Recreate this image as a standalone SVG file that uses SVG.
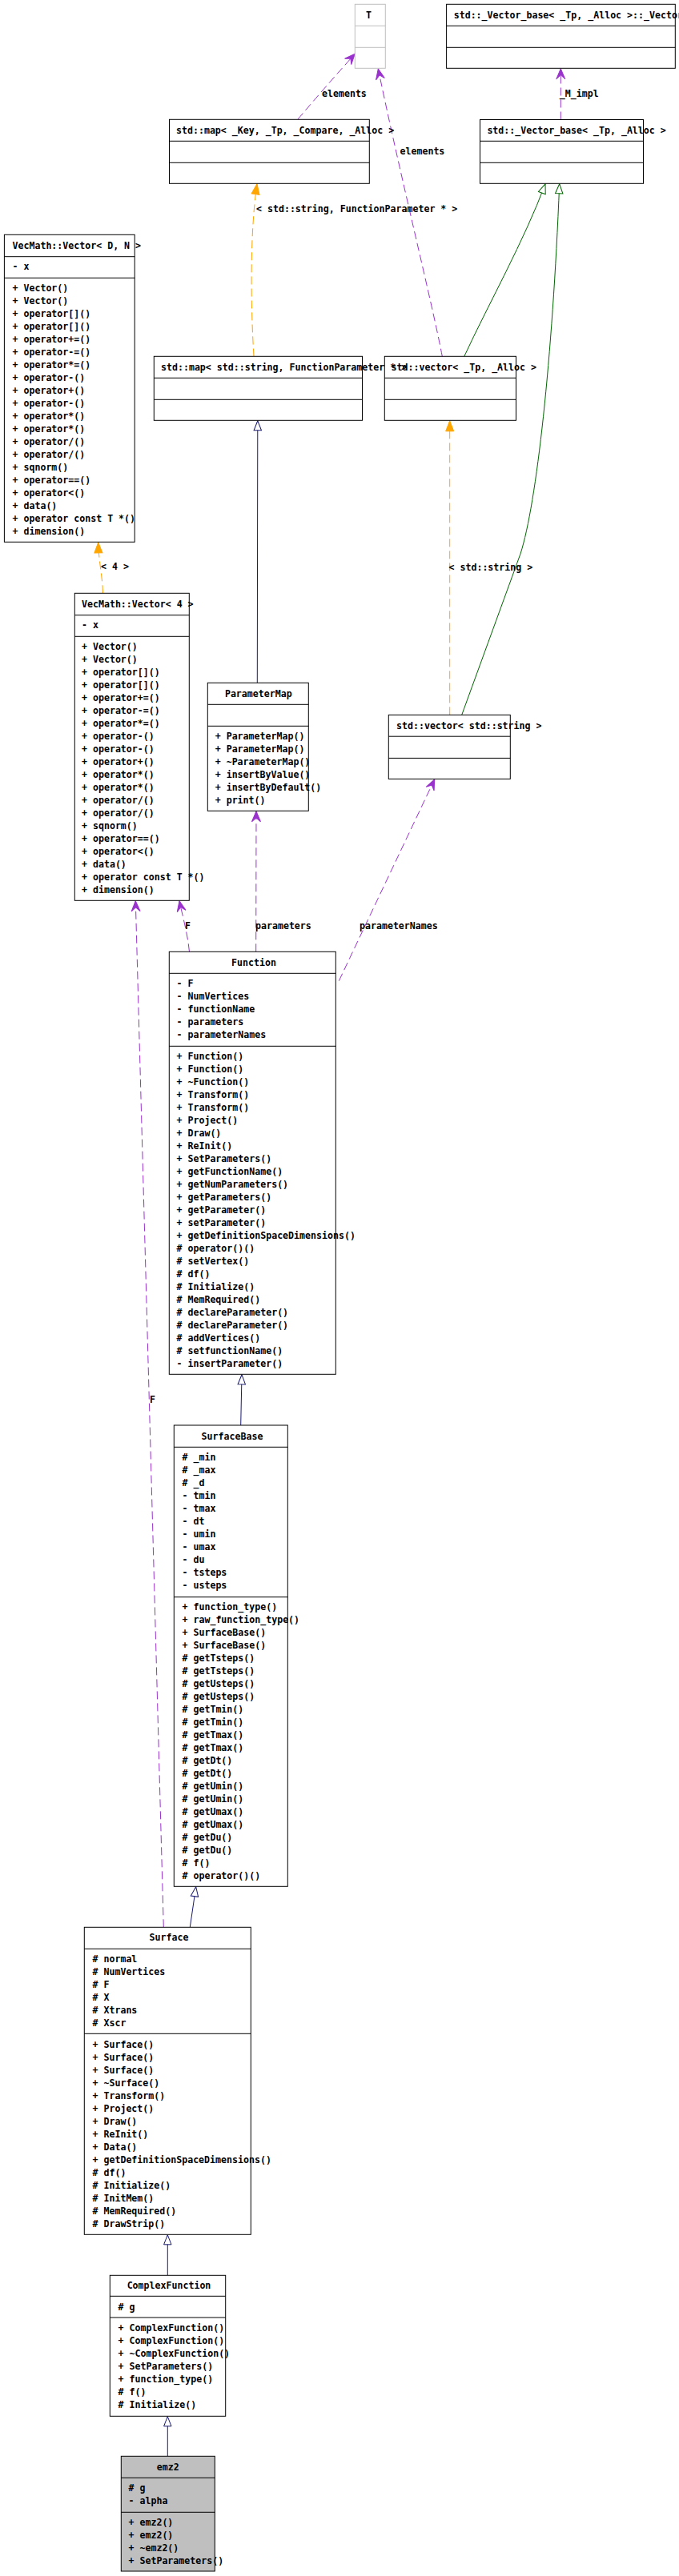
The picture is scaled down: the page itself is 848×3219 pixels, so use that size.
<svg xmlns="http://www.w3.org/2000/svg" width="848" height="3219" viewBox="0 0 848 3219">
<style>
.bx{fill:#ffffff;stroke:#000000;stroke-width:1}
.gbx{fill:#ffffff;stroke:#bfbfbf;stroke-width:1}
.hl{fill:#bfbfbf;stroke:#000000;stroke-width:1}
.dv{stroke:#000000;stroke-width:1}
.gdv{stroke:#bfbfbf;stroke-width:1}
text{font-family:"DejaVu Sans Mono","Liberation Mono",monospace;font-size:11.6px;font-weight:bold;fill:#000000}
.c{text-anchor:middle}
.e{fill:none;stroke-width:1}
.pu{stroke:#9a32cd;stroke-dasharray:10,5}
.or{stroke:#ffa500;stroke-dasharray:10,5}
.gr{stroke:#006400}
.nv{stroke:#191970}
</style>
<defs>
<marker id="mPu" markerUnits="userSpaceOnUse" viewBox="-15 -8 16 16" markerWidth="16" markerHeight="16" refX="0" refY="0" orient="auto">
<path d="M0,0 L-13,-5.5 L-8,0 L-13,5.5 Z" fill="#9a32cd" stroke="#9a32cd" stroke-width="1"/>
</marker>
<marker id="mOr" markerUnits="userSpaceOnUse" viewBox="-15 -8 16 16" markerWidth="16" markerHeight="16" refX="0" refY="0" orient="auto">
<path d="M0,0 L-13,-5 L-13,5 Z" fill="#ffa500" stroke="#ffa500" stroke-width="1"/>
</marker>
<marker id="mNv" markerUnits="userSpaceOnUse" viewBox="-15 -8 16 16" markerWidth="16" markerHeight="16" refX="0" refY="0" orient="auto">
<path d="M0,0 L-12,-4.7 L-12,4.7 Z" fill="#ffffff" stroke="#191970" stroke-width="1"/>
</marker>
<marker id="mGr" markerUnits="userSpaceOnUse" viewBox="-15 -8 16 16" markerWidth="16" markerHeight="16" refX="0" refY="0" orient="auto">
<path d="M0,0 L-12,-4.7 L-12,4.7 Z" fill="#ffffff" stroke="#006400" stroke-width="1"/>
</marker>
</defs>
<rect x="0" y="0" width="848" height="3219" fill="#ffffff"/>

<g id="connectors">
<path class="e pu" d="M372,149 Q405,110 443.3,67.3" marker-end="url(#mPu)"/>
<path class="e pu" d="M552.3,445.3 C540,380 500,220 472.3,86" marker-end="url(#mPu)"/>
<path class="e pu" d="M700.3,149.5 L700.3,85.8" marker-end="url(#mPu)"/>
<path class="e or" d="M317,445.3 C313,380 312,290 321,229.8" marker-end="url(#mOr)"/>
<path class="e gr" d="M579.8,445.3 C610,380 655,300 681,229.8" marker-end="url(#mGr)"/>
<path class="e gr" d="M576.7,893.4 L650,692 C670,630 690,450 698.7,229.8" marker-end="url(#mGr)"/>
<path class="e or" d="M561.7,893.4 L561.7,525.8" marker-end="url(#mOr)"/>
<path class="e or" d="M128.5,741.3 C128,720 123,700 122.7,677.8" marker-end="url(#mOr)"/>
<path class="e nv" d="M321.3,853.3 L321.8,525.8" marker-end="url(#mNv)"/>
<path class="e pu" d="M319.7,1189.3 L320,1013.8" marker-end="url(#mPu)"/>
<path class="e pu" d="M423.3,1225.7 L542.7,973.9" marker-end="url(#mPu)"/>
<path class="e pu" d="M236.5,1189.3 C234,1165 228,1145 224,1125.8" marker-end="url(#mPu)"/>
<path class="e pu" d="M204.3,2408.3 L169.3,1125.8" marker-end="url(#mPu)"/>
<path class="e nv" d="M300.7,1781 L302,1717.8" marker-end="url(#mNv)"/>
<path class="e nv" d="M237.3,2408.3 L244.7,2357.8" marker-end="url(#mNv)"/>
<path class="e nv" d="M209.3,2843.3 L209.3,2792.8" marker-end="url(#mNv)"/>
<path class="e nv" d="M209.3,3069.3 L209.3,3019.8" marker-end="url(#mNv)"/>
<text x="402" y="121">elements</text>
<text x="499.5" y="193">elements</text>
<text x="698.8" y="120.7">_M_impl</text>
<text x="320" y="265">&lt; std::string, FunctionParameter * &gt;</text>
<text x="126" y="712.3">&lt; 4 &gt;</text>
<text x="560.5" y="713">&lt; std::string &gt;</text>
<text x="231" y="1161">F</text>
<text x="319" y="1161">parameters</text>
<text x="449" y="1161">parameterNames</text>
<text x="187" y="1753">F</text>
</g>

<g id="node-T">
<rect class="gbx" x="443.3" y="5.3" width="38" height="80"/>
<line class="gdv" x1="443.3" y1="32.3" x2="481.3" y2="32.3"/>
<line class="gdv" x1="443.3" y1="59.3" x2="481.3" y2="59.3"/>
<text class="c" x="460.5" y="23">T</text>
</g>

<g id="node-vector-impl">
<rect class="bx" x="557.6" y="5.3" width="285.7" height="80"/>
<line class="dv" x1="557.6" y1="32.3" x2="843.3" y2="32.3"/>
<line class="dv" x1="557.6" y1="59.3" x2="843.3" y2="59.3"/>
<text x="566.7" y="23">std::_Vector_base&lt; _Tp, _Alloc &gt;::_Vector_impl</text>
</g>

<g id="node-map-key">
<rect class="bx" x="211.5" y="149.3" width="249.8" height="80"/>
<line class="dv" x1="211.5" y1="176.3" x2="461.3" y2="176.3"/>
<line class="dv" x1="211.5" y1="203.3" x2="461.3" y2="203.3"/>
<text x="220" y="167">std::map&lt; _Key, _Tp, _Compare, _Alloc &gt;</text>
</g>

<g id="node-vector-base">
<rect class="bx" x="599.5" y="149.5" width="204" height="79.8"/>
<line class="dv" x1="599.5" y1="176.3" x2="803.5" y2="176.3"/>
<line class="dv" x1="599.5" y1="203.3" x2="803.5" y2="203.3"/>
<text x="608.4" y="167">std::_Vector_base&lt; _Tp, _Alloc &gt;</text>
</g>

<g id="node-vecmath-DN">
<rect class="bx" x="5.4" y="293.3" width="162.8" height="384"/>
<line class="dv" x1="5.4" y1="320.7" x2="168.2" y2="320.7"/>
<line class="dv" x1="5.4" y1="347.3" x2="168.2" y2="347.3"/>
<text x="15.5" y="310.7">VecMath::Vector&lt; D, N &gt;</text>
<text x="15.5" y="337.3">- x</text>
<text x="15.5" y="364">+ Vector()</text>
<text x="15.5" y="380">+ Vector()</text>
<text x="15.5" y="396">+ operator[]()</text>
<text x="15.5" y="412">+ operator[]()</text>
<text x="15.5" y="428">+ operator+=()</text>
<text x="15.5" y="444">+ operator-=()</text>
<text x="15.5" y="460">+ operator*=()</text>
<text x="15.5" y="476">+ operator-()</text>
<text x="15.5" y="492">+ operator+()</text>
<text x="15.5" y="508">+ operator-()</text>
<text x="15.5" y="524">+ operator*()</text>
<text x="15.5" y="540">+ operator*()</text>
<text x="15.5" y="556">+ operator/()</text>
<text x="15.5" y="572">+ operator/()</text>
<text x="15.5" y="588">+ sqnorm()</text>
<text x="15.5" y="604">+ operator==()</text>
<text x="15.5" y="620">+ operator&lt;()</text>
<text x="15.5" y="636">+ data()</text>
<text x="15.5" y="652">+ operator const T *()</text>
<text x="15.5" y="668">+ dimension()</text>
</g>

<g id="node-map-string">
<rect class="bx" x="192.3" y="445.3" width="260.2" height="80"/>
<line class="dv" x1="192.3" y1="472.3" x2="452.5" y2="472.3"/>
<line class="dv" x1="192.3" y1="499.3" x2="452.5" y2="499.3"/>
<text x="201" y="463">std::map&lt; std::string, FunctionParameter * &gt;</text>
</g>

<g id="node-vector-tp">
<rect class="bx" x="480.3" y="445.3" width="164.2" height="80" fill-opacity="0"/>
<line class="dv" x1="480.3" y1="472.3" x2="644.5" y2="472.3"/>
<line class="dv" x1="480.3" y1="499.3" x2="644.5" y2="499.3"/>
<text x="488.5" y="463">std::vector&lt; _Tp, _Alloc &gt;</text>
</g>

<g id="node-vecmath-4">
<rect class="bx" x="93.3" y="741.3" width="143" height="384"/>
<line class="dv" x1="93.3" y1="768.7" x2="236.3" y2="768.7"/>
<line class="dv" x1="93.3" y1="795.3" x2="236.3" y2="795.3"/>
<text x="102" y="759">VecMath::Vector&lt; 4 &gt;</text>
<text x="102" y="785.3">- x</text>
<text x="102" y="812">+ Vector()</text>
<text x="102" y="828">+ Vector()</text>
<text x="102" y="844">+ operator[]()</text>
<text x="102" y="860">+ operator[]()</text>
<text x="102" y="876">+ operator+=()</text>
<text x="102" y="892">+ operator-=()</text>
<text x="102" y="908">+ operator*=()</text>
<text x="102" y="924">+ operator-()</text>
<text x="102" y="940">+ operator-()</text>
<text x="102" y="956">+ operator+()</text>
<text x="102" y="972">+ operator*()</text>
<text x="102" y="988">+ operator*()</text>
<text x="102" y="1004">+ operator/()</text>
<text x="102" y="1020">+ operator/()</text>
<text x="102" y="1036">+ sqnorm()</text>
<text x="102" y="1052">+ operator==()</text>
<text x="102" y="1068">+ operator&lt;()</text>
<text x="102" y="1084">+ data()</text>
<text x="102" y="1100">+ operator const T *()</text>
<text x="102" y="1116">+ dimension()</text>
</g>

<g id="node-ParameterMap">
<rect class="bx" x="259.3" y="853.3" width="126" height="160"/>
<line class="dv" x1="259.3" y1="880.3" x2="385.3" y2="880.3"/>
<line class="dv" x1="259.3" y1="907.3" x2="385.3" y2="907.3"/>
<text class="c" x="322.8" y="871">ParameterMap</text>
<text x="268.7" y="924">+ ParameterMap()</text>
<text x="268.7" y="940">+ ParameterMap()</text>
<text x="268.7" y="956">+ ~ParameterMap()</text>
<text x="268.7" y="972">+ insertByValue()</text>
<text x="268.7" y="988">+ insertByDefault()</text>
<text x="268.7" y="1004">+ print()</text>
</g>

<g id="node-vector-string">
<rect class="bx" x="485.3" y="893.4" width="152" height="80"/>
<line class="dv" x1="485.3" y1="920.2" x2="637.3" y2="920.2"/>
<line class="dv" x1="485.3" y1="947.4" x2="637.3" y2="947.4"/>
<text x="495" y="910.8">std::vector&lt; std::string &gt;</text>
</g>

<g id="node-Function">
<rect class="bx" x="211.3" y="1189.3" width="208" height="528"/>
<line class="dv" x1="211.3" y1="1216.3" x2="419.3" y2="1216.3"/>
<line class="dv" x1="211.3" y1="1307.3" x2="419.3" y2="1307.3"/>
<text class="c" x="317" y="1207">Function</text>
<text x="220.5" y="1232.7">- F</text>
<text x="220.5" y="1248.7">- NumVertices</text>
<text x="220.5" y="1264.7">- functionName</text>
<text x="220.5" y="1280.7">- parameters</text>
<text x="220.5" y="1296.7">- parameterNames</text>
<text x="220.5" y="1324">+ Function()</text>
<text x="220.5" y="1340">+ Function()</text>
<text x="220.5" y="1356">+ ~Function()</text>
<text x="220.5" y="1372">+ Transform()</text>
<text x="220.5" y="1388">+ Transform()</text>
<text x="220.5" y="1404">+ Project()</text>
<text x="220.5" y="1420">+ Draw()</text>
<text x="220.5" y="1436">+ ReInit()</text>
<text x="220.5" y="1452">+ SetParameters()</text>
<text x="220.5" y="1468">+ getFunctionName()</text>
<text x="220.5" y="1484">+ getNumParameters()</text>
<text x="220.5" y="1500">+ getParameters()</text>
<text x="220.5" y="1516">+ getParameter()</text>
<text x="220.5" y="1532">+ setParameter()</text>
<text x="220.5" y="1548">+ getDefinitionSpaceDimensions()</text>
<text x="220.5" y="1564"># operator()()</text>
<text x="220.5" y="1580"># setVertex()</text>
<text x="220.5" y="1596"># df()</text>
<text x="220.5" y="1612"># Initialize()</text>
<text x="220.5" y="1628"># MemRequired()</text>
<text x="220.5" y="1644"># declareParameter()</text>
<text x="220.5" y="1660"># declareParameter()</text>
<text x="220.5" y="1676"># addVertices()</text>
<text x="220.5" y="1692"># setfunctionName()</text>
<text x="220.5" y="1708">- insertParameter()</text>
</g>

<g id="node-SurfaceBase">
<rect class="bx" x="217.3" y="1781" width="142" height="576.3"/>
<line class="dv" x1="217.3" y1="1808.3" x2="359.3" y2="1808.3"/>
<line class="dv" x1="217.3" y1="1995.7" x2="359.3" y2="1995.7"/>
<text class="c" x="290" y="1799">SurfaceBase</text>
<text x="227.5" y="1825"># _min</text>
<text x="227.5" y="1841"># _max</text>
<text x="227.5" y="1857"># _d</text>
<text x="227.5" y="1873">- tmin</text>
<text x="227.5" y="1889">- tmax</text>
<text x="227.5" y="1905">- dt</text>
<text x="227.5" y="1921">- umin</text>
<text x="227.5" y="1937">- umax</text>
<text x="227.5" y="1953">- du</text>
<text x="227.5" y="1969">- tsteps</text>
<text x="227.5" y="1985">- usteps</text>
<text x="227.5" y="2011.7">+ function_type()</text>
<text x="227.5" y="2027.7">+ raw_function_type()</text>
<text x="227.5" y="2043.7">+ SurfaceBase()</text>
<text x="227.5" y="2059.7">+ SurfaceBase()</text>
<text x="227.5" y="2075.7"># getTsteps()</text>
<text x="227.5" y="2091.7"># getTsteps()</text>
<text x="227.5" y="2107.7"># getUsteps()</text>
<text x="227.5" y="2123.7"># getUsteps()</text>
<text x="227.5" y="2139.7"># getTmin()</text>
<text x="227.5" y="2155.7"># getTmin()</text>
<text x="227.5" y="2171.7"># getTmax()</text>
<text x="227.5" y="2187.7"># getTmax()</text>
<text x="227.5" y="2203.7"># getDt()</text>
<text x="227.5" y="2219.7"># getDt()</text>
<text x="227.5" y="2235.7"># getUmin()</text>
<text x="227.5" y="2251.7"># getUmin()</text>
<text x="227.5" y="2267.7"># getUmax()</text>
<text x="227.5" y="2283.7"># getUmax()</text>
<text x="227.5" y="2299.7"># getDu()</text>
<text x="227.5" y="2315.7"># getDu()</text>
<text x="227.5" y="2331.7"># f()</text>
<text x="227.5" y="2347.7"># operator()()</text>
</g>

<g id="node-Surface">
<rect class="bx" x="105.3" y="2408.3" width="208" height="384"/>
<line class="dv" x1="105.3" y1="2435.3" x2="313.3" y2="2435.3"/>
<line class="dv" x1="105.3" y1="2541.3" x2="313.3" y2="2541.3"/>
<text class="c" x="211" y="2425">Surface</text>
<text x="115.5" y="2451.7"># normal</text>
<text x="115.5" y="2467.7"># NumVertices</text>
<text x="115.5" y="2483.7"># F</text>
<text x="115.5" y="2499.7"># X</text>
<text x="115.5" y="2515.7"># Xtrans</text>
<text x="115.5" y="2531.7"># Xscr</text>
<text x="115.5" y="2558.7">+ Surface()</text>
<text x="115.5" y="2574.7">+ Surface()</text>
<text x="115.5" y="2590.7">+ Surface()</text>
<text x="115.5" y="2606.7">+ ~Surface()</text>
<text x="115.5" y="2622.7">+ Transform()</text>
<text x="115.5" y="2638.7">+ Project()</text>
<text x="115.5" y="2654.7">+ Draw()</text>
<text x="115.5" y="2670.7">+ ReInit()</text>
<text x="115.5" y="2686.7">+ Data()</text>
<text x="115.5" y="2702.7">+ getDefinitionSpaceDimensions()</text>
<text x="115.5" y="2718.7"># df()</text>
<text x="115.5" y="2734.7"># Initialize()</text>
<text x="115.5" y="2750.7"># InitMem()</text>
<text x="115.5" y="2766.7"># MemRequired()</text>
<text x="115.5" y="2782.7"># DrawStrip()</text>
</g>

<g id="node-ComplexFunction">
<rect class="bx" x="137.3" y="2843.3" width="144.4" height="176"/>
<line class="dv" x1="137.3" y1="2869.3" x2="281.7" y2="2869.3"/>
<line class="dv" x1="137.3" y1="2896" x2="281.7" y2="2896"/>
<text class="c" x="211" y="2860">ComplexFunction</text>
<text x="147.5" y="2887.3"># g</text>
<text x="147.5" y="2913">+ ComplexFunction()</text>
<text x="147.5" y="2929">+ ComplexFunction()</text>
<text x="147.5" y="2945">+ ~ComplexFunction()</text>
<text x="147.5" y="2961">+ SetParameters()</text>
<text x="147.5" y="2977">+ function_type()</text>
<text x="147.5" y="2993"># f()</text>
<text x="147.5" y="3009"># Initialize()</text>
</g>

<g id="node-emz2">
<rect class="hl" x="151.3" y="3069.3" width="117" height="143.7"/>
<line class="dv" x1="151.3" y1="3096.3" x2="268.3" y2="3096.3"/>
<line class="dv" x1="151.3" y1="3139.3" x2="268.3" y2="3139.3"/>
<text class="c" x="209.8" y="3087.3">emz2</text>
<text x="160.5" y="3113.3"># g</text>
<text x="160.5" y="3129.3">- alpha</text>
<text x="160.5" y="3155.7">+ emz2()</text>
<text x="160.5" y="3171.7">+ emz2()</text>
<text x="160.5" y="3187.7">+ ~emz2()</text>
<text x="160.5" y="3203.7">+ SetParameters()</text>
</g>
</svg>
